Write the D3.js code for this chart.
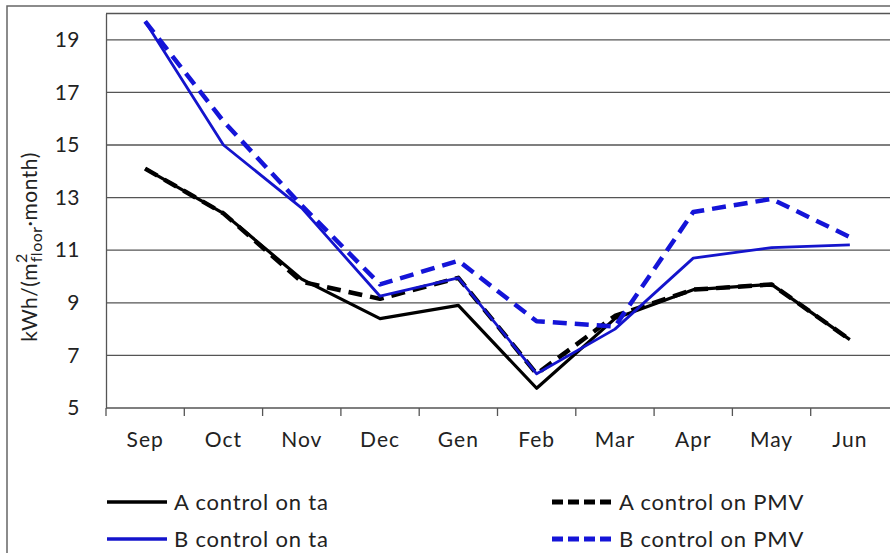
<!DOCTYPE html>
<html>
<head>
<meta charset="utf-8">
<script src="https://cdn.jsdelivr.net/npm/d3@7"></script>
<style>
  body { margin: 0; background: #fff; }
  text { font-family: Lato, "Open Sans", sans-serif; fill: #222; }
</style>
</head>
<body>
<svg id="plotarea"></svg>
<script>
var months = ["Sep", "Oct", "Nov", "Dec", "Gen", "Feb", "Mar", "Apr", "May", "Jun"];
var aTa  = [14.1, 12.4, 9.9, 8.4, 8.9, 5.75, 8.4, 9.5, 9.7, 7.6];
var aPmv = [14.1, 12.4, 9.8, 9.15, 9.95, 6.3, 8.5, 9.5, 9.7, 7.6];
var bTa  = [19.7, 15.0, 12.6, 9.25, 9.95, 6.3, 8.0, 10.7, 11.1, 11.2];
var bPmv = [19.7, 15.9, 12.7, 9.7, 10.6, 8.3, 8.1, 12.45, 12.95, 11.5];
var yTicks = [5, 7, 9, 11, 13, 15, 17, 19];
var seriesNames = ["A control on ta", "A control on PMV", "B control on ta", "B control on PMV"];

var width = 890, height = 553;
var margin = {top: 13.5, right: 1, bottom: 145, left: 106};

var svg = d3.select("#plotarea")
    .attr("width", width)
    .attr("height", height);

// outer frame of the figure
svg.append("path")
    .attr("d", "M7,553 L7,6 L890,6")
    .attr("fill", "none")
    .attr("stroke", "#666")
    .attr("stroke-width", 1.5);

var x = d3.scaleBand()
    .domain(months)
    .range([margin.left, width - margin.right]);

var y = d3.scaleLinear()
    .domain([5, 20])
    .range([height - margin.bottom, margin.top]);

// gridlines
svg.append("g").selectAll("line")
    .data(yTicks.concat([20]))
    .enter().append("line")
    .attr("x1", margin.left)
    .attr("x2", width)
    .attr("y1", function(d) { return y(d); })
    .attr("y2", function(d) { return y(d); })
    .attr("stroke", "#555")
    .attr("stroke-width", 1.3);

// left axis
var yAxis = svg.append("g")
    .attr("transform", "translate(" + margin.left + ",0)")
    .call(d3.axisLeft(y).tickValues(yTicks).tickSize(0).tickPadding(26));
yAxis.select(".domain").attr("stroke", "#555").attr("stroke-width", 1.3);
yAxis.selectAll("text")
    .style("font-family", "Lato, sans-serif")
    .style("font-size", "21px")
    .style("letter-spacing", "0.5px")
    .attr("fill", "#222");

// bottom axis with ticks between categories
var xAxis = svg.append("g")
    .attr("transform", "translate(0," + y(5) + ")")
    .call(d3.axisBottom(x).tickSize(0).tickPadding(24));
xAxis.select(".domain").remove();
xAxis.selectAll("text")
    .style("font-family", "Lato, sans-serif")
    .style("font-size", "21px")
    .style("letter-spacing", "1px")
    .attr("fill", "#222");
svg.append("g").selectAll("line")
    .data(months)
    .enter().append("line")
    .attr("x1", function(d) { return x(d); })
    .attr("x2", function(d) { return x(d); })
    .attr("y1", y(5))
    .attr("y2", y(5) + 8)
    .attr("stroke", "#555")
    .attr("stroke-width", 1.3);

// y label
var yl = svg.append("text")
    .attr("transform", "translate(37,247) rotate(-90)")
    .attr("text-anchor", "middle")
    .style("font-size", "21px")
    .style("letter-spacing", "0.5px");
yl.append("tspan").text("kWh/(m");
yl.append("tspan").attr("dy", -10).style("font-size", "16px").text("2");
yl.append("tspan").attr("dx", -9).attr("dy", 15).style("font-size", "16px").text("floor");
yl.append("tspan").attr("dy", -5).text("·month)");

var styles = [
    {data: aTa,  color: "#000", w: 3.2, dash: null,   ldash: null},
    {data: aPmv, color: "#000", w: 4.5, dash: "14,8", ldash: "11,5"},
    {data: bTa,  color: "#1414cc", w: 2.8, dash: null,   ldash: null},
    {data: bPmv, color: "#1414d8", w: 4.5, dash: "14,8", ldash: "11,5"}
];

var line = d3.line()
    .x(function(d, i) { return x(months[i]) + x.bandwidth() / 2; })
    .y(function(d) { return y(d); });

svg.append("g").selectAll("path")
    .data(styles)
    .enter().append("path")
    .attr("d", function(s) { return line(s.data); })
    .attr("fill", "none")
    .attr("stroke", function(s) { return s.color; })
    .attr("stroke-width", function(s) { return s.w; })
    .attr("stroke-dasharray", function(s) { return s.dash; })
    .attr("stroke-linejoin", "round");

// legend
var legPos = [[107, 502], [552, 502], [107, 539], [552, 539]];
var leg = svg.append("g").selectAll("g")
    .data(styles)
    .enter().append("g")
    .attr("transform", function(d, i) { return "translate(" + legPos[i][0] + "," + legPos[i][1] + ")"; });
leg.append("line")
    .attr("x1", 0).attr("x2", 60)
    .attr("stroke", function(s) { return s.color; })
    .attr("stroke-width", function(s) { return s.w + 0.5; })
    .attr("stroke-dasharray", function(s) { return s.ldash; });
leg.append("text")
    .attr("x", 67)
    .attr("dy", "0.35em")
    .style("font-size", "22px")
    .style("letter-spacing", "0.8px")
    .text(function(d, i) { return seriesNames[i]; });
</script>
</body>
</html>
